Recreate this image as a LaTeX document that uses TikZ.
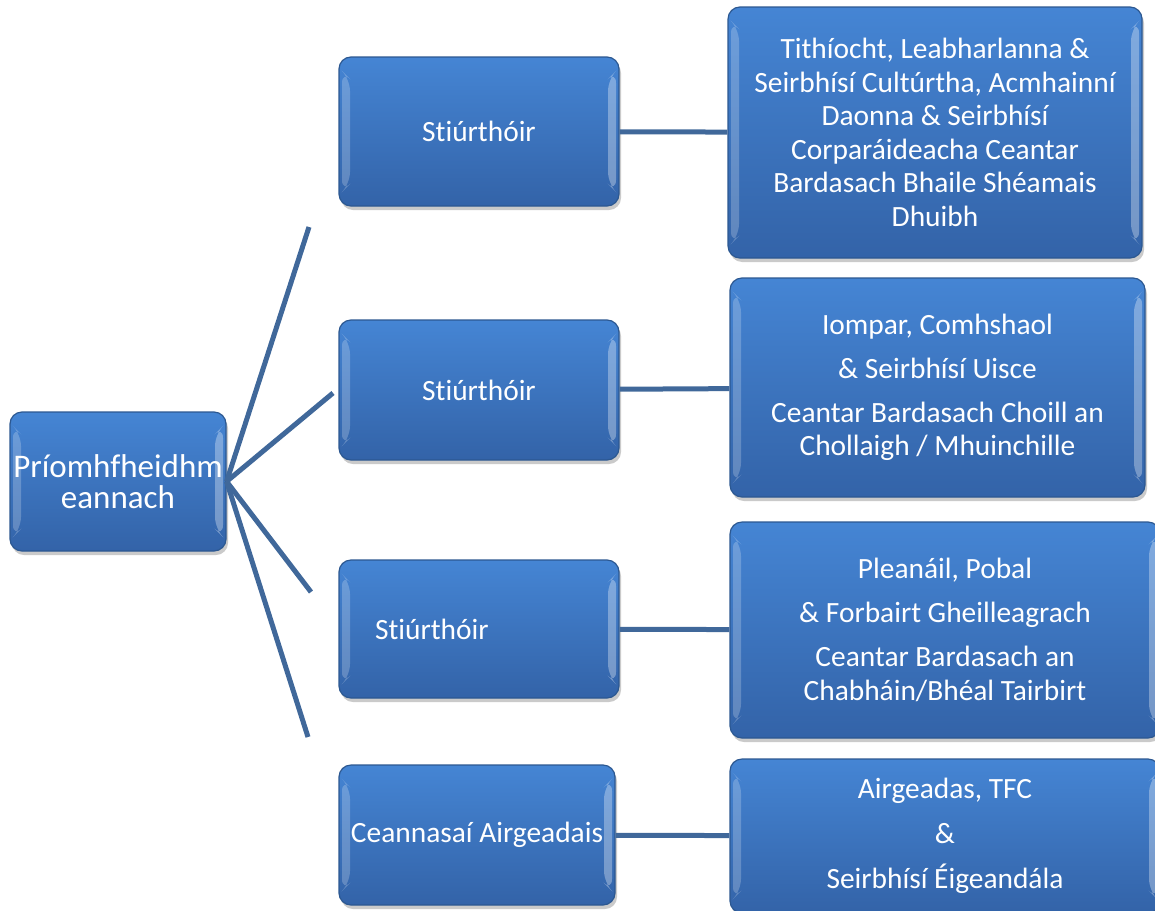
\documentclass[tikz,border=0pt]{standalone}
\usepackage{fontspec}
\setmainfont{Carlito}[Ligatures={NoCommon}]
\usetikzlibrary{
    shadows,   % For the soft shadow under each box
    calc
}
\definecolor{boxTop}{RGB}{69,133,212}
\definecolor{boxBottom}{RGB}{51,99,168}
\definecolor{boxEdge}{RGB}{44,88,145}
\definecolor{linkBlue}{RGB}{64,104,154}

\begin{document}
\begin{tikzpicture}[
    x=1pt, y=-1pt,
    % Style for every blue box
    box_style/.style={
        rectangle, rounded corners=12pt,
        draw=boxEdge, line width=1.2pt,
        top color=boxTop, bottom color=boxBottom,
        drop shadow={shadow xshift=2pt, shadow yshift=-4pt, opacity=0.35, fill=black!60},
        text=white, font=\fontsize{29.4}{33.5}\selectfont,
        align=center, inner sep=4pt,
        % light bevel strips on the left and right edges
        path picture={
            \fill[white, opacity=0.22]
                ([xshift=3pt, yshift=-14pt]path picture bounding box.north west) --
                ([xshift=11pt, yshift=-22pt]path picture bounding box.north west) --
                ([xshift=11pt, yshift=22pt]path picture bounding box.south west) --
                ([xshift=3pt, yshift=14pt]path picture bounding box.south west) -- cycle;
            \fill[white, opacity=0.32]
                ([xshift=-3pt, yshift=-14pt]path picture bounding box.north east) --
                ([xshift=-11pt, yshift=-22pt]path picture bounding box.north east) --
                ([xshift=-11pt, yshift=22pt]path picture bounding box.south east) --
                ([xshift=-3pt, yshift=14pt]path picture bounding box.south east) -- cycle;
        }
    },
    % Style for the connecting lines
    link_style/.style={
        draw=linkBlue, line width=5pt
    }
]
    \useasboundingbox (0,0) rectangle (1155,910);

    % 1. The chief executive on the left
    \node[box_style, minimum width=216, minimum height=139, inner sep=0pt, font=\fontsize{33}{31}\selectfont]
        (chief_exec) at (118,481.5) {Príomhfheidhm\\eannach};

    % 2. The middle column of directors
    \node[box_style, minimum width=280, minimum height=149] (director_one) at (479,131.5) {Stiúrthóir};
    \node[box_style, minimum width=280, minimum height=140] (director_two) at (479,390) {Stiúrthóir};
    \node[box_style, minimum width=280, minimum height=138, text width=208, inner xsep=36pt, align=left]
        (director_three) at (479,629) {Stiúrthóir};
    \node[box_style, minimum width=276, minimum height=140, inner sep=0pt] (finance_head) at (477,835) {Ceannasaí Airgeadais};

    % 3. The right column of departments
    \node[box_style, minimum width=414, minimum height=251] (dept_one) at (935,132.5)
        {Tithíocht, Leabharlanna \&\\Seirbhísí Cultúrtha, Acmhainní\\Daonna \& Seirbhísí\\Corparáideacha Ceantar\\Bardasach Bhaile Shéamais\\Dhuibh};
    \node[box_style, minimum width=415, minimum height=219] (dept_two) at (937.5,387.5)
        {Iompar, Comhshaol\\[10.5pt]\& Seirbhísí Uisce\\[10.5pt]Ceantar Bardasach Choill an\\Chollaigh / Mhuinchille};
    \node[box_style, minimum width=430, minimum height=216] (dept_three) at (945,630)
        {Pleanáil, Pobal\\[10.5pt]\& Forbairt Gheilleagrach\\[10.5pt]Ceantar Bardasach an\\Chabháin/Bhéal Tairbirt};
    \node[box_style, minimum width=430, minimum height=154] (dept_four) at (945,836)
        {Airgeadas, TFC\\[11.5pt]\&\\[11.5pt]Seirbhísí Éigeandála};

    % 4. Free ends of the fan of lines from the chief executive
    \coordinate (fan_end_one) at (309,227);
    \coordinate (fan_end_two) at (333,393);
    \coordinate (fan_end_three) at (311,592);
    \coordinate (fan_end_four) at (308,737);

    \foreach \fanend in {fan_end_one, fan_end_two, fan_end_three, fan_end_four}
        \draw[link_style] (chief_exec.east) -- (\fanend);

    % 5. Links from each director to its department
    \draw[link_style] (director_one) -- (dept_one);
    \draw[link_style] (director_two) -- (dept_two);
    \draw[link_style] (director_three) -- (dept_three);
    \draw[link_style] (finance_head) -- (dept_four);

\end{tikzpicture}
\end{document}
